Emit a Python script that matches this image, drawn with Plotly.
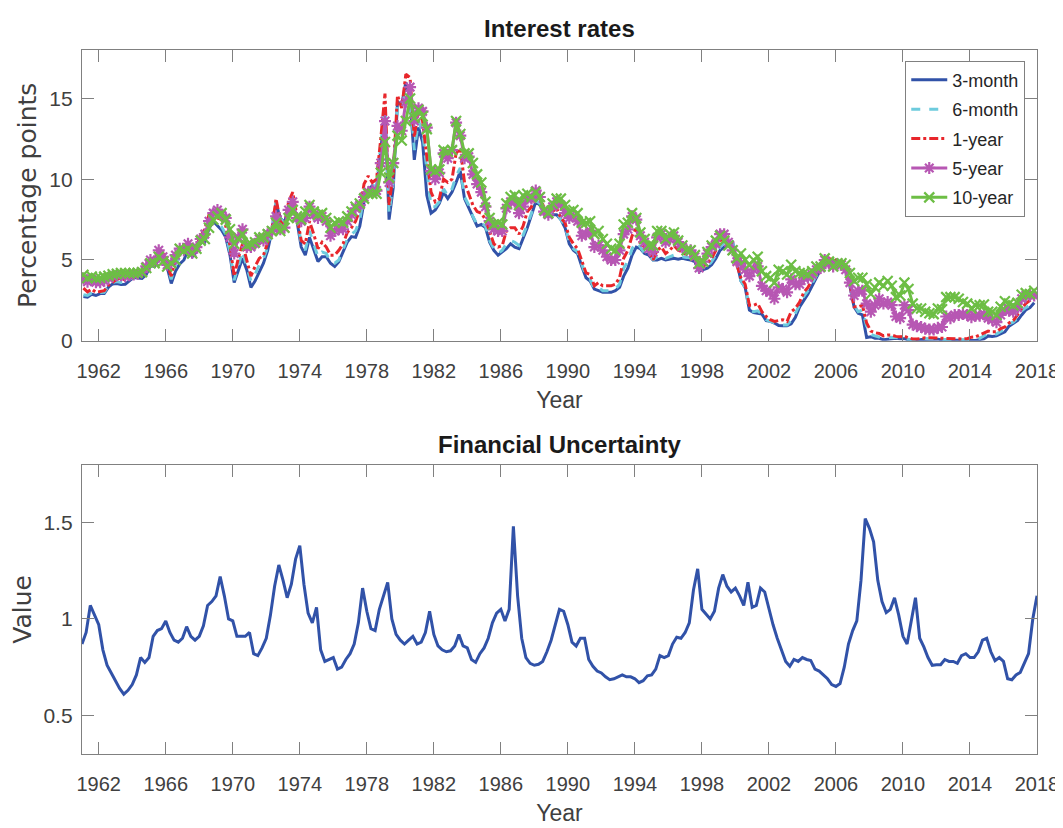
import pandas as pd
import plotly.graph_objects as go
from plotly.subplots import make_subplots

# ---------------- data (quarterly readings, plot years 1961-2017) ----------------
rate_3m = [
    2.74, 2.70, 2.88, 2.80,  2.92, 2.92, 3.32, 3.52,  3.54, 3.48, 3.50, 3.70,
    3.92, 3.88, 3.86, 4.10,  4.65, 4.60, 5.05, 5.20,  4.55, 3.55, 4.30, 4.75,
    5.00, 5.65, 5.20, 5.50,  6.10, 6.10, 6.95, 7.40,  7.15, 6.85, 6.40, 5.30,
    3.60, 4.30, 5.10, 4.40,  3.30, 3.70, 4.30, 4.80,  5.60, 6.80, 8.50, 7.60,
    7.30, 8.30, 8.60, 7.40,  5.80, 5.30, 6.40, 5.60,  4.90, 5.20, 5.20, 4.80,
    4.60, 4.90, 5.50, 6.10,  6.45, 6.40, 7.10, 8.60,  9.35, 9.60, 9.40, 11.80,
    14.2, 7.50, 9.50, 14.8,  14.6, 16.0, 15.0, 11.2,  13.2, 12.3, 9.00, 7.90,
    8.10, 8.50, 9.20, 8.80,  9.20, 9.80, 10.5, 8.80,  8.20, 7.60, 7.10, 7.20,
    7.00, 6.10, 5.60, 5.30,  5.50, 5.70, 6.00, 5.80,  5.70, 6.30, 7.00, 7.80,
    8.60, 8.40, 7.90, 7.70,  7.80, 7.80, 7.50, 7.00,  6.00, 5.60, 5.40, 4.60,
    3.90, 3.70, 3.20, 3.10,  3.00, 3.00, 3.00, 3.10,  3.30, 4.00, 4.50, 5.30,
    5.80, 5.70, 5.40, 5.30,  5.00, 5.00, 5.10, 5.00,  5.05, 5.10, 5.05, 5.10,
    5.05, 5.00, 4.90, 4.30,  4.40, 4.50, 4.70, 5.10,  5.60, 5.80, 6.00, 6.10,
    4.90, 3.70, 3.30, 1.90,  1.75, 1.70, 1.65, 1.25,  1.20, 1.10, 0.95, 0.93,
    0.93, 1.05, 1.45, 2.10,  2.50, 2.90, 3.40, 3.90,  4.40, 4.70, 4.95, 4.95,
    5.00, 4.75, 4.30, 3.40,  2.10, 1.70, 1.60, 0.20,  0.25, 0.15, 0.15, 0.06,
    0.10, 0.14, 0.15, 0.13,  0.13, 0.05, 0.02, 0.01,  0.08, 0.09, 0.10, 0.09,
    0.10, 0.05, 0.04, 0.07,  0.05, 0.03, 0.03, 0.02,  0.02, 0.02, 0.05, 0.12,
    0.30, 0.27, 0.30, 0.45,  0.55, 0.90, 1.05, 1.25,  1.60, 1.90, 2.05, 2.35,
]
rate_6m = [
    2.85, 2.80, 2.97, 2.90,  2.98, 3.00, 3.40, 3.62,  3.66, 3.60, 3.62, 3.82,
    3.98, 3.95, 3.98, 4.35,  4.78, 4.70, 5.40, 5.45,  4.62, 3.80, 4.70, 5.15,
    5.25, 5.80, 5.35, 5.62,  6.30, 6.35, 7.30, 7.65,  7.30, 7.05, 6.60, 5.50,
    3.75, 4.60, 5.55, 4.60,  3.70, 4.10, 4.70, 5.10,  5.80, 6.90, 8.60, 7.60,
    7.20, 8.40, 8.80, 7.70,  6.00, 5.60, 6.80, 6.00,  5.20, 5.50, 5.40, 4.90,
    4.80, 5.00, 5.60, 6.30,  6.60, 6.80, 7.50, 9.00,  9.50, 9.60, 9.60, 11.90,
    14.5, 7.90, 9.80, 14.5,  14.4, 15.6, 15.4, 11.8,  13.6, 12.9, 10.5, 8.30,
    8.30, 8.60, 9.40, 9.00,  9.40, 10.2, 10.7, 8.90,  8.40, 7.70, 7.20, 7.30,
    7.10, 6.20, 5.70, 5.40,  5.60, 6.00, 6.20, 6.10,  5.90, 6.50, 7.20, 7.90,
    8.70, 8.50, 7.90, 7.70,  7.90, 7.90, 7.50, 7.10,  6.10, 5.70, 5.50, 4.70,
    4.00, 3.80, 3.20, 3.30,  3.10, 3.10, 3.10, 3.20,  3.50, 4.50, 4.90, 5.70,
    6.10, 5.80, 5.40, 5.30,  5.00, 5.20, 5.30, 5.10,  5.20, 5.30, 5.20, 5.20,
    5.15, 5.15, 5.00, 4.40,  4.50, 4.60, 4.90, 5.30,  5.80, 6.10, 6.10, 6.10,
    4.80, 3.70, 3.30, 1.90,  1.80, 1.85, 1.65, 1.30,  1.20, 1.10, 1.00, 0.98,
    0.98, 1.25, 1.70, 2.25,  2.75, 3.10, 3.60, 4.10,  4.50, 4.85, 5.05, 4.95,
    5.00, 4.85, 4.50, 3.50,  2.20, 1.80, 1.90, 0.90,  0.40, 0.30, 0.25, 0.16,
    0.17, 0.22, 0.20, 0.18,  0.16, 0.10, 0.05, 0.05,  0.10, 0.14, 0.13, 0.13,
    0.11, 0.08, 0.07, 0.09,  0.07, 0.05, 0.05, 0.06,  0.08, 0.09, 0.15, 0.30,
    0.45, 0.40, 0.42, 0.58,  0.70, 1.05, 1.15, 1.40,  1.85, 2.05, 2.20, 2.45,
]
rate_1y = [
    3.26, 3.03, 3.20, 3.00,  3.05, 3.10, 3.45, 3.65,  3.80, 3.90, 3.75, 3.90,
    3.98, 4.02, 4.10, 4.55,  4.95, 4.95, 5.70, 5.45,  4.75, 4.00, 5.05, 5.55,
    5.45, 6.05, 5.60, 5.90,  6.50, 6.90, 7.80, 8.00,  7.60, 7.50, 7.10, 5.90,
    4.00, 5.10, 6.00, 4.90,  4.00, 4.60, 5.10, 5.30,  6.00, 6.80, 8.80, 7.40,
    7.10, 8.60, 9.20, 7.80,  6.20, 6.00, 7.40, 6.60,  5.70, 6.10, 5.80, 5.30,
    5.30, 5.60, 6.00, 6.70,  7.00, 7.40, 8.10, 9.70,  10.2, 9.80, 10.0, 12.5,
    15.3, 8.40, 10.4, 15.2,  14.4, 16.5, 16.3, 12.6,  14.4, 13.6, 11.4, 9.20,
    8.60, 8.80, 10.0, 9.80,  10.0, 11.6, 11.9, 9.80,  9.10, 8.40, 8.00, 7.90,
    7.50, 6.80, 6.00, 5.80,  5.90, 6.80, 7.00, 7.00,  6.60, 7.10, 8.00, 8.30,
    9.20, 9.00, 8.20, 7.80,  8.00, 8.20, 7.60, 7.30,  6.40, 6.00, 5.70, 4.90,
    4.20, 4.10, 3.40, 3.60,  3.40, 3.40, 3.40, 3.50,  3.90, 5.10, 5.60, 6.50,
    7.00, 6.00, 5.80, 5.60,  5.00, 5.60, 5.80, 5.40,  5.60, 5.90, 5.60, 5.50,
    5.30, 5.40, 5.10, 4.50,  4.60, 4.80, 5.10, 5.60,  6.20, 6.30, 6.20, 6.00,
    4.70, 3.90, 3.50, 2.20,  2.20, 2.30, 1.80, 1.50,  1.30, 1.20, 1.25, 1.30,
    1.20, 1.80, 2.00, 2.40,  3.00, 3.30, 3.80, 4.30,  4.70, 5.00, 5.10, 5.00,
    5.00, 4.95, 4.50, 3.50,  2.10, 2.10, 2.20, 1.10,  0.60, 0.50, 0.45, 0.30,
    0.35, 0.35, 0.27, 0.25,  0.28, 0.18, 0.11, 0.11,  0.16, 0.18, 0.18, 0.17,
    0.15, 0.12, 0.13, 0.12,  0.12, 0.10, 0.11, 0.13,  0.22, 0.24, 0.37, 0.50,
    0.60, 0.55, 0.55, 0.75,  0.85, 1.10, 1.25, 1.60,  2.00, 2.30, 2.50, 2.70,
]
rate_5y = [
    3.85, 3.65, 3.80, 3.62,  3.62, 3.72, 3.88, 4.00,  4.05, 4.05, 4.00, 4.05,
    4.10, 4.15, 4.25, 4.60,  5.00, 4.90, 5.60, 5.20,  4.70, 4.80, 5.30, 5.70,
    5.60, 6.00, 5.45, 5.80,  6.30, 6.60, 7.40, 7.90,  8.10, 7.80, 7.60, 6.40,
    5.40, 6.40, 6.90, 5.80,  5.80, 6.00, 6.30, 6.20,  6.60, 6.80, 7.70, 6.90,
    7.00, 8.10, 8.60, 7.60,  7.40, 7.60, 8.30, 7.80,  7.60, 7.70, 7.40, 6.50,
    6.80, 6.90, 6.90, 7.40,  7.80, 8.20, 8.40, 8.90,  9.20, 9.30, 9.30, 11.0,
    13.6, 9.80, 11.0, 13.3,  13.0, 14.8, 15.7, 13.6,  14.4, 14.2, 13.2, 10.5,
    10.0, 10.4, 11.6, 11.3,  11.8, 13.5, 12.7, 11.3,  11.4, 10.3, 9.70, 9.20,
    8.30, 7.40, 6.90, 6.80,  6.80, 8.20, 8.60, 8.60,  7.90, 8.30, 8.80, 8.80,
    9.30, 8.90, 8.00, 7.80,  8.30, 8.60, 8.40, 7.90,  7.60, 7.70, 7.40, 6.50,
    6.60, 6.80, 5.80, 5.90,  5.60, 5.20, 5.00, 5.00,  5.60, 6.60, 6.90, 7.70,
    7.50, 6.50, 6.10, 5.70,  5.50, 6.40, 6.60, 6.10,  6.30, 6.50, 6.10, 5.80,
    5.60, 5.60, 5.20, 4.50,  4.90, 5.40, 5.80, 6.00,  6.60, 6.60, 6.10, 5.60,
    4.90, 4.80, 4.40, 4.00,  4.40, 4.60, 3.40, 3.10,  3.00, 2.60, 3.30, 3.20,
    3.00, 3.80, 3.50, 3.50,  3.90, 3.90, 4.10, 4.40,  4.50, 5.00, 4.80, 4.60,
    4.70, 4.70, 4.40, 3.60,  2.80, 3.10, 3.10, 2.30,  1.80, 2.20, 2.60, 2.30,
    2.40, 2.20, 1.50, 1.40,  2.20, 1.90, 1.00, 0.90,  0.85, 0.75, 0.70, 0.70,
    0.80, 0.85, 1.50, 1.40,  1.60, 1.60, 1.65, 1.60,  1.45, 1.55, 1.55, 1.65,
    1.40, 1.30, 1.15, 1.60,  1.90, 1.85, 1.80, 2.05,  2.60, 2.80, 2.80, 2.80,
]
rate_10y = [
    4.08, 3.88, 3.98, 3.87,  3.90, 3.97, 4.02, 4.12,  4.15, 4.20, 4.19, 4.18,
    4.20, 4.21, 4.25, 4.50,  4.80, 4.80, 5.20, 4.90,  4.60, 4.80, 5.00, 5.70,
    5.55, 5.70, 5.40, 5.70,  6.20, 6.30, 7.00, 7.50,  7.70, 7.90, 7.50, 6.90,
    6.00, 6.30, 6.60, 5.90,  6.00, 6.10, 6.40, 6.40,  6.60, 6.80, 7.30, 6.80,
    7.00, 7.60, 8.10, 7.70,  7.50, 8.00, 8.40, 8.00,  7.80, 7.90, 7.60, 7.00,
    7.30, 7.40, 7.30, 7.70,  8.00, 8.30, 8.50, 8.80,  9.10, 9.10, 9.10, 10.4,
    12.3, 10.1, 11.0, 12.7,  12.4, 13.6, 15.0, 13.8,  14.3, 13.9, 13.1, 10.6,
    10.5, 10.6, 11.8, 11.7,  11.8, 13.6, 12.8, 11.6,  11.6, 11.0, 10.3, 9.80,
    8.60, 7.60, 7.20, 7.30,  7.20, 8.50, 8.90, 9.00,  8.40, 9.00, 9.10, 8.90,
    9.20, 8.90, 8.10, 7.90,  8.50, 8.80, 8.80, 8.40,  8.00, 8.10, 7.90, 7.30,
    7.30, 7.40, 6.60, 6.80,  6.30, 6.00, 5.70, 5.60,  6.00, 7.20, 7.30, 7.90,
    7.60, 6.70, 6.30, 5.90,  5.90, 6.80, 6.80, 6.30,  6.60, 6.70, 6.20, 5.90,
    5.60, 5.60, 5.30, 4.80,  4.90, 5.50, 5.90, 6.20,  6.50, 6.20, 5.90, 5.60,
    5.10, 5.40, 5.00, 4.70,  5.00, 5.20, 4.30, 4.00,  3.90, 3.60, 4.40, 4.30,
    4.10, 4.70, 4.30, 4.20,  4.20, 4.10, 4.30, 4.60,  4.60, 5.10, 4.90, 4.60,
    4.80, 4.80, 4.70, 4.20,  3.70, 3.90, 3.90, 3.50,  2.90, 3.30, 3.60, 3.40,
    3.70, 3.40, 2.70, 2.80,  3.60, 3.20, 2.30, 2.00,  2.00, 1.80, 1.70, 1.65,
    2.00, 1.95, 2.70, 2.70,  2.70, 2.60, 2.40, 2.30,  2.00, 2.20, 2.20, 2.25,
    1.80, 1.80, 1.60, 2.10,  2.45, 2.30, 2.20, 2.35,  2.85, 2.95, 2.90, 3.10,
]
fin_unc = [
    0.87, 0.93, 1.07, 1.02,  0.97, 0.84, 0.76, 0.72,  0.68, 0.64, 0.61, 0.63,
    0.66, 0.71, 0.80, 0.775, 0.80, 0.91, 0.94, 0.95,  0.99, 0.93, 0.89, 0.88,
    0.90, 0.96, 0.91, 0.89,  0.91, 0.965, 1.07, 1.09, 1.12, 1.22, 1.12, 1.00,
    0.99, 0.91, 0.91, 0.91,  0.93, 0.82, 0.81, 0.85,  0.90, 1.02, 1.17, 1.28,
    1.20, 1.11, 1.18, 1.31,  1.38, 1.18, 1.03, 0.98,  1.06, 0.84, 0.78, 0.79,
    0.80, 0.74, 0.75, 0.79,  0.82, 0.87, 0.98, 1.16,  1.04, 0.95, 0.94, 1.05,
    1.12, 1.19, 1.00, 0.92,  0.89, 0.87, 0.89, 0.91,  0.87, 0.88, 0.93, 1.04,
    0.92, 0.86, 0.84, 0.83,  0.835, 0.86, 0.92, 0.86, 0.85, 0.79, 0.775, 0.82,
    0.85, 0.90, 0.98, 1.03,  1.05, 0.99, 1.05, 1.48,  1.12, 0.90, 0.80, 0.77,
    0.76, 0.765, 0.78, 0.83, 0.89, 0.97, 1.05, 1.04,  0.97, 0.88, 0.86, 0.90,
    0.90, 0.79, 0.755, 0.73, 0.72, 0.70, 0.685, 0.69, 0.70, 0.71, 0.70, 0.70,
    0.69, 0.67, 0.68, 0.705, 0.71, 0.74, 0.81, 0.80,  0.81, 0.87, 0.905, 0.90,
    0.93, 0.98, 1.15, 1.26,  1.05, 1.024, 1.00, 1.04, 1.16, 1.23, 1.17, 1.14,
    1.16, 1.12, 1.07, 1.19,  1.06, 1.07, 1.16, 1.14,  1.05, 0.97, 0.90, 0.84,
    0.78, 0.755, 0.79, 0.78, 0.80, 0.79, 0.785, 0.74, 0.73, 0.71, 0.69, 0.66,
    0.65, 0.665, 0.75, 0.87, 0.94, 0.99, 1.20, 1.52,  1.47, 1.40, 1.20, 1.09,
    1.033, 1.05, 1.11, 1.02, 0.91, 0.87, 0.98, 1.11,  0.90, 0.855, 0.80, 0.76,
    0.763, 0.763, 0.79, 0.78, 0.78, 0.77, 0.81, 0.82, 0.80, 0.80, 0.83, 0.89,
    0.90, 0.83, 0.784, 0.80, 0.78, 0.69, 0.685, 0.71, 0.723, 0.775, 0.82, 1.00,
    1.12,
]
series_names = ["3-month", "6-month", "1-year", "5-year", "10-year"]
x_ticks_years = list(range(1962, 2019, 4))

# ---------------- dates ----------------
dates_rates = pd.date_range("1961-02-01", periods=len(rate_3m), freq="3MS")
dates_unc = pd.date_range("1961-01-01", periods=len(fin_unc), freq="QS")

# ---------------- styling ----------------
NARROW = "Liberation Sans, Arial, sans-serif"
WIDE = "DejaVu Sans, Liberation Sans, Arial, sans-serif"
BLUE = "#3152A8"
CYAN = "#6DCBDD"
RED = "#E8262B"
MAGENTA = "#B757B3"
GREEN = "#6DBE45"
FRAME = "#808080"
TXT = "#404040"

fig = make_subplots(rows=2, cols=1)

styles = [
    dict(mode="lines", line=dict(color=BLUE, width=3)),
    dict(mode="lines", line=dict(color=CYAN, width=3, dash="dash")),
    dict(mode="lines", line=dict(color=RED, width=3, dash="dashdot")),
    dict(mode="lines+markers", line=dict(color=MAGENTA, width=3),
         marker=dict(symbol="asterisk-open", size=10, color=MAGENTA,
                     line=dict(color=MAGENTA, width=2.2))),
    dict(mode="lines+markers", line=dict(color=GREEN, width=3),
         marker=dict(symbol="x-thin-open", size=10, color=GREEN,
                     line=dict(color=GREEN, width=2.2))),
]
for name, vals, st in zip(series_names,
                          [rate_3m, rate_6m, rate_1y, rate_5y, rate_10y], styles):
    fig.add_trace(go.Scatter(x=dates_rates, y=vals, name=name, legendgroup=name,
                             **st), row=1, col=1)

fig.add_trace(go.Scatter(x=dates_unc, y=fin_unc, mode="lines", showlegend=False,
                         line=dict(color=BLUE, width=3)), row=2, col=1)

tickvals = [pd.Timestamp(f"{y}-01-01") for y in x_ticks_years]
ticktext = [str(y) for y in x_ticks_years]
xcommon = dict(
    range=[pd.Timestamp("1961-01-01"), pd.Timestamp("2018-01-01")],
    tickvals=tickvals, ticktext=ticktext,
    showline=True, mirror="ticks", linecolor=FRAME, linewidth=1.3,
    ticks="inside", ticklen=12, tickwidth=1.2, tickcolor=FRAME,
    showgrid=False, zeroline=False,
    tickfont=dict(family=NARROW, size=20, color=TXT),
    ticklabelstandoff=12,
    title=dict(text="Year", font=dict(family=NARROW, size=23, color=TXT), standoff=10),
)
ycommon = dict(
    showline=True, mirror="ticks", linecolor=FRAME, linewidth=1.3,
    ticks="inside", ticklen=12, tickwidth=1.2, tickcolor=FRAME,
    showgrid=False, zeroline=False,
    tickfont=dict(family=NARROW, size=21, color=TXT),
    ticklabelstandoff=4,
)
fig.update_xaxes(**xcommon, row=1, col=1)
fig.update_xaxes(**xcommon, row=2, col=1)
fig.update_yaxes(**ycommon, range=[0, 18], tickvals=[0, 5, 10, 15],
                 domain=[0.587, 1.0],
                 title=dict(text="Percentage points", standoff=5,
                            font=dict(family=WIDE, size=25, color=TXT)),
                 row=1, col=1)
fig.update_yaxes(**ycommon, range=[0.3, 1.8], tickvals=[0.5, 1, 1.5],
                 ticktext=["0.5", "1", "1.5"], domain=[0.0, 0.411],
                 title=dict(text="Value", standoff=6,
                            font=dict(family=WIDE, size=25, color=TXT)),
                 row=2, col=1)

fig.update_layout(
    width=1063, height=828,
    margin=dict(l=60, r=28, t=42, b=82),
    paper_bgcolor="white", plot_bgcolor="white",
    legend=dict(x=0.9877, y=0.985, xanchor="right", yanchor="top",
                bgcolor="white", bordercolor=FRAME, borderwidth=1,
                font=dict(family=NARROW, size=18, color="#262626"),
                tracegroupgap=3, itemwidth=36),
    annotations=[
        dict(text="<b>Interest rates</b>", xref="paper", yref="paper",
             x=0.5, y=1.031, xanchor="center", yanchor="middle", showarrow=False,
             font=dict(family=NARROW, size=24, color="#1a1a1a")),
        dict(text="<b>Financial Uncertainty</b>", xref="paper", yref="paper",
             x=0.5, y=0.4403, xanchor="center", yanchor="middle", showarrow=False,
             font=dict(family=NARROW, size=24, color="#1a1a1a")),
    ],
)

fig.write_html("out.html")
